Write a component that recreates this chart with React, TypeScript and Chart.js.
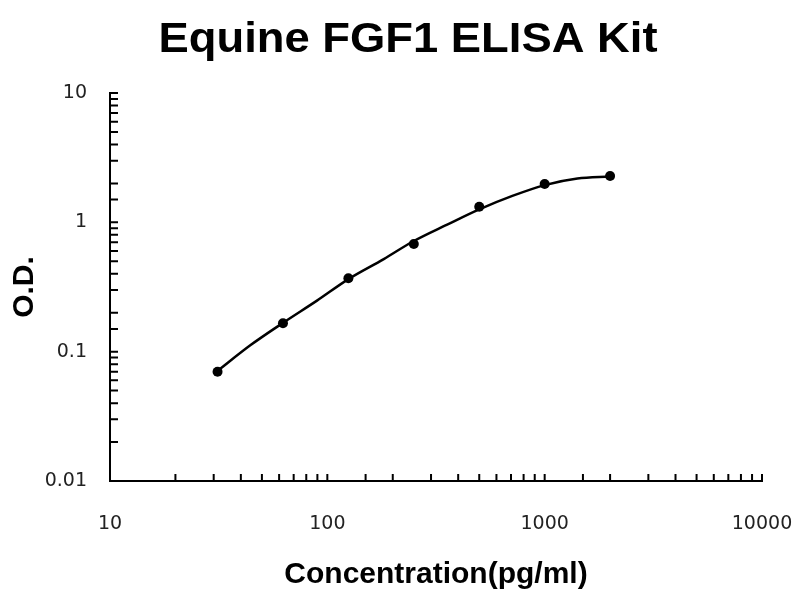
import React, { useEffect, useRef } from "react";
import { Chart, registerables, Plugin } from "chart.js";

Chart.register(...registerables);

// measured standards
const concentrations = [31.25, 62.5, 125, 250, 500, 1000, 2000];
const odValues = [0.07, 0.166, 0.37, 0.68, 1.32, 1.98, 2.28];
// fitted curve
const curveX = [31.25, 44.2, 62.5, 89.6, 125, 181.8, 250, 356, 500, 710, 1000, 1415, 2000];
const curveY = [0.071, 0.112, 0.167, 0.248, 0.364, 0.52, 0.717, 0.96, 1.26, 1.6, 1.94, 2.18, 2.26];
const xRange = [10, 10000];
const yRange = [0.01, 10];

const TITLE = "Equine FGF1 ELISA Kit";

// inward tick marks + title, like the original Excel plot
const frame: Plugin = {
    id: "frame",
    afterDatasetsDraw(chart) {
        const { ctx, chartArea, scales } = chart;
        ctx.save();
        ctx.strokeStyle = "#000";
        ctx.lineWidth = 2;
        ctx.beginPath();
        scales.y.ticks.forEach((t) => {
            const py = scales.y.getPixelForValue(t.value);
            ctx.moveTo(chartArea.left, py);
            ctx.lineTo(chartArea.left + 8, py);
        });
        scales.x.ticks.forEach((t) => {
            const px = scales.x.getPixelForValue(t.value);
            ctx.moveTo(px, chartArea.bottom);
            ctx.lineTo(px, chartArea.bottom - 7);
        });
        ctx.stroke();

        // title is a bit wider than plain Arial bold in the original
        ctx.fillStyle = "#000";
        ctx.font = "bold 42px 'Liberation Sans', Arial, sans-serif";
        ctx.textAlign = "center";
        ctx.textBaseline = "middle";
        ctx.translate(408, 40);
        ctx.scale(1.08, 1);
        ctx.fillText(TITLE, 0, 0);
        ctx.restore();
    },
};

const isDecade = (v: number) => {
    const l = Math.log10(v);
    return Math.abs(l - Math.round(l)) < 1e-6;
};

const App = () => {
    const canvasRef = useRef<HTMLCanvasElement | null>(null);
    const chartRef = useRef<Chart | null>(null);

    useEffect(() => {
        const ctx = canvasRef.current?.getContext("2d");
        if (!ctx) return;
        chartRef.current = new Chart(ctx, {
            type: "line",
            data: {
                datasets: [
                    {
                        // fit line
                        data: curveX.map((c, i) => ({ x: c, y: curveY[i] })),
                        borderColor: "#000",
                        borderWidth: 2.5,
                        pointRadius: 0,
                        cubicInterpolationMode: "monotone",
                    },
                    {
                        // standards
                        data: concentrations.map((c, i) => ({ x: c, y: odValues[i] })),
                        showLine: false,
                        pointRadius: 5,
                        pointBackgroundColor: "#000",
                        pointBorderWidth: 0,
                    },
                ],
            },
            options: {
                animation: false,
                responsive: true,
                maintainAspectRatio: false,
                layout: { padding: { top: 93, right: 0, left: 0, bottom: 0 } },
                plugins: {
                    legend: { display: false },
                    tooltip: { enabled: false },
                },
                scales: {
                    x: {
                        type: "logarithmic",
                        min: xRange[0],
                        max: xRange[1],
                        grid: { display: false, drawTicks: false },
                        border: { display: true, color: "#000", width: 2 },
                        ticks: {
                            autoSkip: false,
                            maxRotation: 0,
                            padding: 32,
                            color: "#222",
                            font: { family: "'DejaVu Sans'", size: 19 },
                            callback: (v) => (isDecade(Number(v)) ? String(Number(v)) : ""),
                        },
                        title: {
                            display: true,
                            text: "Concentration(pg/ml)",
                            color: "#000",
                            font: { family: "'Liberation Sans', Arial", size: 30, weight: "bold" },
                            padding: { top: 0, bottom: 7 },
                        },
                        afterFit: (s) => {
                            s.height = 119;
                            s.paddingLeft = 0;
                            s.paddingRight = 38;
                        },
                    },
                    y: {
                        type: "logarithmic",
                        min: yRange[0],
                        max: yRange[1],
                        grid: { display: false, drawTicks: false },
                        border: { display: true, color: "#000", width: 2 },
                        ticks: {
                            autoSkip: false,
                            padding: 23,
                            color: "#222",
                            font: { family: "'DejaVu Sans'", size: 19 },
                            callback: (v) => (isDecade(Number(v)) ? String(Number(v)) : ""),
                        },
                        title: {
                            display: true,
                            text: "O.D.",
                            color: "#000",
                            font: { family: "'Liberation Sans', Arial", size: 30, weight: "bold" },
                            padding: { top: 7, bottom: 0 },
                        },
                        afterFit: (s) => {
                            s.width = 110;
                        },
                    },
                },
            },
            plugins: [frame],
        });

        return () => {
            chartRef.current?.destroy();
            chartRef.current = null;
        };
    }, []);

    return (
        <div style={{ position: "fixed", left: 0, top: 0, width: 800, height: 600, background: "#fff" }}>
            <canvas ref={canvasRef} />
        </div>
    );
};

export default App;
